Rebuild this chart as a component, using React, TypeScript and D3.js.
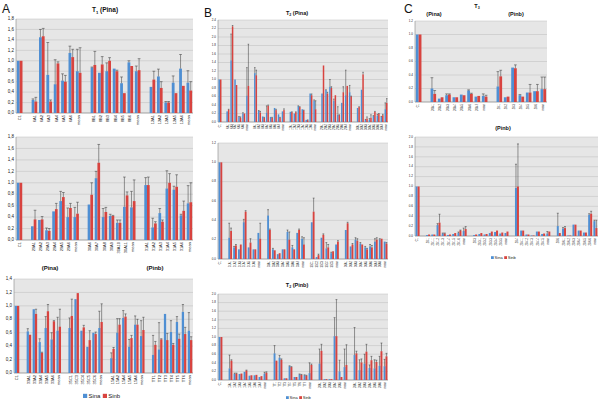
import React from 'react';
import * as d3 from 'd3';

// ---- Panel A: T1 (Pina) ----
const a1Labels = ['C1', '', '6A1', '6A2', '6A3', '6A4', '6A5', '6A6', 'mean', '', '8B1', '8B2', '8B3', '8B4', '8B5', '8B6', 'mean', '', '12A1', '12A2', '12A3', '12A5', '12A6', 'mean'];
const a1Sina = [1, null, 0.25, 1.45, 0.73, 0.55, 0.62, 1.15, 0.8, null, 0.87, 0.77, 0.8, 0.85, 0.57, 0.97, 0.8, null, 0.5, 0.7, 0.2, 0.58, 0.85, 0.58];
const a1SinaHi = [1, null, 0.27, 1.6, 1.35, 1.02, 0.75, 1.28, 1.22, null, 0.88, 0.77, 0.96, 0.85, 0.69, 1.0, 0.9, null, 0.5, 0.84, 0.22, 0.71, 1.12, 0.81];
const a1Sinb = [1, null, 0.22, 1.47, 0.22, 0.95, 0.6, 1.07, 0.77, null, 0.92, 0.93, 1.0, 0.8, 0.38, 0.9, 0.82, null, 0.64, 0.48, 0.2, 0.38, 0.52, 0.43];
const a1SinbHi = [1, null, 0.3, 1.62, 0.25, 0.98, 0.72, 1.22, 1.25, null, 1.18, 1.08, 1.06, 0.82, 0.38, 0.9, 1.04, null, 0.8, 0.6, 0.22, 0.38, 0.52, 0.6];

const a2Labels = ['C1', '', '29A1', '29A2', '29A3', '29A4', '29A5', '29A6', 'mean', '', '30A6', '30A7', '30A8', '30A9', '30A10', '30A11', 'mean', '', '31A1', '31A2', '31A3', '31A4', '31A5', '31A6', 'mean'];
const a2Sina = [1, null, 0.24, 0.35, 0.17, 0.5, 0.68, 0.4, 0.4, null, 0.62, 1.08, 0.4, 0.42, 0.3, 0.58, 0.57, null, 0.96, 0.22, 0.47, 0.9, 0.88, 0.43, 0.64];
const a2SinaHi = [1, null, 0.24, 0.35, 0.21, 0.5, 0.85, 0.56, 0.57, null, 0.62, 1.2, 0.55, 0.45, 0.35, 1.1, 0.85, null, 1.09, 0.38, 0.55, 1.21, 0.94, 0.45, 0.95];
const a2Sinb = [1, null, 0.36, 0.36, 0.16, 0.54, 0.75, 0.56, 0.46, null, 0.79, 1.35, 0.49, 0.42, 0.3, 0.78, 0.68, null, 0.96, 0.29, 0.32, 1.0, 0.93, 0.51, 0.66];
const a2SinbHi = [1, null, 0.52, 0.41, 0.2, 0.64, 0.83, 0.64, 0.66, null, 1.0, 1.67, 0.57, 0.43, 0.35, 0.84, 1.05, null, 1.1, 0.32, 0.35, 1.16, 1.14, 0.68, 1.0];

const a3Labels = ['C1', '', '33A1', '33A2', '33A4', '33A5', '33A6', 'mean', '', '35C1', '35C3', '35C4', '35C5', '35C6', 'mean', '', '15A1', '15A2', '15A4', '15A5', '15A6', 'mean', '', 'TT1', 'TT2', 'TT3', 'TT4', 'TT5', 'TT6', 'mean'];
const a3Sina = [1, null, 0.62, 0.95, 0.46, 0.67, 0.5, 0.63, null, 0.67, 1.1, 0.63, 0.39, 0.6, 0.67, null, 0.22, 0.6, 0.82, 0.39, 0.72, 0.55, null, 0.27, 0.35, 0.88, 0.61, 0.76, 0.91, 0.63];
const a3SinaHi = [1, null, 0.66, 0.95, 0.51, 0.84, 0.6, 0.83, null, 0.82, 1.1, 0.63, 0.39, 0.6, 0.92, null, 0.3, 0.81, 0.93, 0.5, 0.85, 0.78, null, 0.56, 0.75, 0.88, 0.78, 0.84, 1.02, 0.9];
const a3Sinb = [1, null, 0.57, 0.88, 0.3, 0.92, 0.77, 0.69, null, 0.85, 1.19, 0.68, 0.49, 0.58, 0.76, null, 0.36, 0.72, 0.84, 0.52, 0.72, 0.64, null, 0.42, 0.5, 0.49, 0.42, 0.51, 0.58, 0.49];
const a3SinbHi = [1, null, 0.57, 0.95, 0.31, 1.02, 0.78, 0.95, null, 1.1, 1.19, 0.71, 0.63, 0.61, 1.03, null, 0.38, 0.81, 0.88, 0.56, 0.8, 0.83, null, 0.47, 0.51, 0.59, 0.44, 0.58, 0.68, 0.54];

// ---- Panel B: T2 ----
const b1Labels = ['C1', '', '6A1', '6A3', '6A4', '6A5', '6A6', 'mean', '', '8A1', '8A2', '8A3', '8A4', '8A5', '8A6', '8A7', 'mean', '', '12A1', '12A2', '12A3', '12A4', '12A5', '12A6', 'mean', '', '29A1', '29A2', '29A3', '29A4', '29A5', '29A6', '29A7', 'mean', '', '30A1', '30A2', '30A3', '30A4', '30A5', '30A6', '30A7', 'mean'];
const b1Sina = [1, null, 0.25, 1.45, 1.0, 0.12, 0.2, 0.62, null, 1.15, 0.26, 0.13, 0.22, 0.12, 0.33, 0.18, 0.25, null, 0.24, 0.2, 0.37, 0.3, 0.05, 0.67, 0.5, null, 0.67, 0.75, 0.83, 0.5, 0.17, 0.45, 0.63, 0.7, null, 0.33, 0.76, 0.05, 0.05, 0.14, 0.15, 0.12, 0.3];
const b1SinaHi = [1, null, 0.25, 2.07, 1.0, 0.13, 0.22, 1.28, null, 1.28, 0.27, 0.13, 0.38, 0.12, 0.33, 0.18, 0.25, null, 0.24, 0.2, 0.38, 0.3, 0.05, 0.67, 0.52, null, 0.67, 0.76, 1.0, 0.54, 0.36, 0.45, 1.22, 0.86, null, 0.33, 0.76, 0.06, 0.08, 0.15, 0.18, 0.13, 0.45];
const b1Sinb = [1, null, 0.29, 2.25, 0.87, 0.1, 0.2, 0.85, null, 1.1, 0.22, 0.1, 0.38, 0.1, 0.28, 0.1, 0.28, null, 0.23, 0.23, 0.35, 0.27, 0.04, 0.63, 0.3, null, 1.33, 0.67, 0.8, 0.63, 0.16, 0.7, 0.85, 0.6, null, 0.35, 1.12, 0.08, 0.1, 0.24, 0.19, 0.16, 0.45];
const b1SinbHi = [1, null, 0.3, 2.27, 0.87, 0.12, 0.2, 1.83, null, 1.22, 0.25, 0.11, 0.4, 0.11, 0.3, 0.11, 0.31, null, 0.24, 0.24, 0.36, 0.28, 0.05, 0.66, 0.5, null, 1.33, 0.7, 0.83, 0.63, 0.17, 0.83, 0.85, 0.61, null, 0.36, 1.17, 0.12, 0.17, 0.25, 0.2, 0.18, 0.55];

const b2Labels = ['C1', '', '31A1', '31A2', '31A3', '31A4', '31A5', '31A6', 'mean', '', '33A1', '33A2', '33A3', '33A4', '33A5', '33A6', '33A7', 'mean', '', '35C1', '35C2', '35C3', '35C4', '35C5', 'mean', '', '36A1', '36A2', '36A3', '36A4', '36A5', '36A6', '36A7', '36A8', 'mean'];
const b2Sina = [1, null, 0.22, 0.12, 0.1, 0.38, 0.12, 0.1, 0.27, null, 0.45, 0.1, 0.05, 0.1, 0.28, 0.12, 0.27, 0.21, null, 0.38, 0.02, 0.22, 0.11, 0.06, 0.15, null, 0.3, 0.13, 0.2, 0.16, 0.12, 0.13, 0.18, 0.2, 0.18];
const b2SinaHi = [1, null, 0.37, 0.13, 0.1, 0.41, 0.12, 0.1, 0.27, null, 0.51, 0.11, 0.05, 0.1, 0.3, 0.14, 0.27, 0.23, null, 0.38, 0.02, 0.22, 0.17, 0.07, 0.15, null, 0.3, 0.13, 0.22, 0.17, 0.13, 0.15, 0.21, 0.21, 0.18];
const b2Sinb = [1, null, 0.29, 0.14, 0.15, 0.49, 0.17, 0.1, 0.21, null, 0.3, 0.09, 0.06, 0.1, 0.2, 0.1, 0.3, 0.15, null, 0.49, 0.04, 0.25, 0.12, 0.08, 0.18, null, 0.37, 0.15, 0.19, 0.15, 0.1, 0.12, 0.2, 0.21, 0.16];
const b2SinbHi = [1, null, 0.32, 0.15, 0.15, 0.5, 0.21, 0.1, 0.37, null, 0.31, 0.09, 0.06, 0.1, 0.28, 0.1, 0.31, 0.22, null, 0.63, 0.05, 0.26, 0.15, 0.08, 0.19, null, 0.38, 0.16, 0.21, 0.15, 0.11, 0.14, 0.22, 0.21, 0.17];

const b3Labels = ['C1', '', '15A1', '15A2', '15A3', '15A4', '15A5', '15A6', '15A7', 'mean', '', 'TT1', 'TT2', 'TT3', 'TT4', 'TT5', 'TT6', 'TT7', 'mean', '', '20A1', '20A2', '20A3', '20A4', '20A5', 'mean', '', '28A1', '28A2', '28A3', '28A4', '28A5', '28A6', 'mean'];
const b3Sina = [1, null, 0.27, 0.14, 0.14, 0.19, 0.1, 0.11, 0.07, 0.15, null, 0.62, 0.52, 0.04, 0.32, 0.07, 0.13, 0.11, 0.16, null, 0.38, 0.02, 0.02, 1.02, 0.2, 0.3, null, 0.58, 0.23, 0.38, 0.28, 0.27, 0.33, 0.32];
const b3SinaHi = [1, null, 0.58, 0.16, 0.14, 0.19, 0.1, 0.11, 0.07, 0.18, null, 0.8, 0.57, 0.04, 0.33, 0.07, 0.14, 0.12, 0.4, null, 0.72, 0.02, 0.02, 1.45, 0.46, 0.72, null, 1.22, 0.47, 0.6, 0.35, 0.47, 0.55, 0.48];
const b3Sinb = [1, null, 0.45, 0.15, 0.15, 0.22, 0.11, 0.12, 0.09, 0.17, null, 0.45, 0.47, 0.04, 0.3, 0.07, 0.12, 0.1, 0.35, null, 0.68, 0.02, 0.02, 1.02, 0.07, 0.35, null, 0.62, 0.41, 0.66, 0.46, 0.42, 0.67, 0.55];
const b3SinbHi = [1, null, 0.47, 0.16, 0.15, 0.23, 0.11, 0.12, 0.09, 0.19, null, 0.45, 0.49, 0.04, 0.31, 0.07, 0.13, 0.11, 0.37, null, 0.83, 0.02, 0.02, 1.87, 0.07, 0.82, null, 0.67, 0.49, 0.83, 0.55, 0.46, 0.86, 0.62];

// ---- Panel C: T3 ----
const c1Labels = ['C1', '', '20A-1', '20A-2', '20A-3', '20A-4', '20A-5', '20A-6', '20A-7', 'mean', '', '28-1', '28-2', '28-3', '28-4', '28-5', '28-6', 'mean'];
const c1Sina = [1, null, 0.2, 0.05, 0.1, 0.07, 0.11, 0.17, 0.08, 0.09, null, 0.23, 0.07, 0.51, 0.1, 0.14, 0.16, 0.19];
const c1SinaHi = [1, null, 0.36, 0.05, 0.12, 0.07, 0.11, 0.18, 0.08, 0.12, null, 0.45, 0.07, 0.51, 0.11, 0.14, 0.16, 0.37];
const c1Sinb = [1, null, 0.12, 0.07, 0.11, 0.07, 0.1, 0.12, 0.09, 0.08, null, 0.38, 0.08, 0.5, 0.08, 0.14, 0.16, 0.19];
const c1SinbHi = [1, null, 0.17, 0.07, 0.12, 0.07, 0.1, 0.13, 0.09, 0.1, null, 0.47, 0.08, 0.55, 0.08, 0.26, 0.26, 0.37];

const c2Labels = ['C1', '', '20-1', '20-1-1', '20-1-2', '20-1-3', '20-1-4', '20-1-5', '20-1-6', 'mean', '', '20-3', '20-3-1', '20-3-2', '20-3-3', '20-3-4', '20-3-5', 'mean', '', '20-4', '20-4-1', '20-4-2', '20-4-3', '20-4-4', '20-4-5', 'mean', '', '20-6', '20-6-1', '20-6-2', '20-6-3', '20-6-4', '20-6-5', '20-6-6', 'mean'];
const c2Sina = [1, null, 0.02, 0.03, 0.22, 0.05, 0.02, 0.04, 0.06, 0.1, null, 0.02, 0.04, 0.03, 0.06, 0.08, 0.05, 0.06, null, 0.97, 0.11, 0.03, 0.01, 0.09, 0.04, 0.05, null, 0.2, 0.15, 0.01, 0.23, 0.11, 0.07, 0.43, 0.3];
const c2SinaHi = [1, null, 0.02, 0.03, 0.25, 0.06, 0.02, 0.04, 0.08, 0.16, null, 0.02, 0.04, 0.03, 0.06, 0.08, 0.05, 0.06, null, 1.45, 0.11, 0.03, 0.01, 0.09, 0.04, 0.09, null, 0.46, 0.17, 0.01, 0.23, 0.11, 0.07, 0.45, 0.32];
const c2Sinb = [1, null, 0.03, 0.03, 0.27, 0.05, 0.03, 0.06, 0.11, 0.14, null, 0.03, 0.06, 0.04, 0.09, 0.11, 0.07, 0.09, null, 1.0, 0.11, 0.03, 0.01, 0.09, 0.05, 0.09, null, 0.06, 0.16, 0.01, 0.23, 0.11, 0.07, 0.45, 0.16];
const c2SinbHi = [1, null, 0.03, 0.03, 0.44, 0.06, 0.03, 0.06, 0.12, 0.19, null, 0.03, 0.06, 0.04, 0.09, 0.11, 0.07, 0.09, null, 1.86, 0.11, 0.03, 0.01, 0.09, 0.05, 0.09, null, 0.06, 0.19, 0.01, 0.23, 0.11, 0.07, 0.5, 0.32];

const BLUE = '#4f8fd3';
const RED = '#d8433f';
const FONT = 'Liberation Sans, Arial, sans-serif';

type ChartProps = {
  left: number; right: number; top: number; bottom: number; max: number;
  labels: string[]; sina: (number | null)[]; sinaHi: (number | null)[];
  sinb: (number | null)[]; sinbHi: (number | null)[];
  tickSize: number; labelSize: number; comma?: boolean;
};

const Chart = ({ left, right, top, bottom, max, labels, sina, sinaHi, sinb, sinbHi, tickSize, labelSize, comma }: ChartProps) => {
  const x = d3.scaleBand<number>().domain(labels.map((_, i) => i)).range([left, right]).paddingInner(0);
  const y = d3.scaleLinear().domain([0, max]).range([bottom, top]);
  const ticks = d3.range(0, max + 1e-9, 0.2);
  const bw = x.bandwidth() * 0.38;
  const fmt = (v: number) => {
    const s = d3.format('.1f')(v);
    return comma ? s.replace('.', ',') : s;
  };

  const series = [
    { vals: sina, hi: sinaHi, color: BLUE, off: -bw },
    { vals: sinb, hi: sinbHi, color: RED, off: 0 },
  ];

  return (
    <g>
      <rect x={left} y={top} width={right - left} height={bottom - top} fill="#e6e6e6" />
      {ticks.map((t) => (
        <g key={t}>
          <line x1={left} x2={right} y1={y(t)} y2={y(t)} stroke="#bdbdbd" strokeWidth={0.5} />
          <text x={left - 2} y={y(t)} fontSize={tickSize} textAnchor="end" dominantBaseline="middle" fill="#222">
            {fmt(t)}
          </text>
        </g>
      ))}
      <line x1={left} x2={left} y1={top} y2={bottom} stroke="#888" strokeWidth={0.6} />
      <line x1={left} x2={right} y1={bottom} y2={bottom} stroke="#888" strokeWidth={0.6} />
      {series.map((s, si) =>
        s.vals.map((v, i) => {
          if (v == null) return null;
          const cx = (x(i) as number) + x.bandwidth() / 2 + s.off;
          const hi = s.hi[i] as number;
          return (
            <g key={`${si}-${i}`}>
              <rect x={cx} y={y(v)} width={bw} height={bottom - y(v)} fill={s.color} />
              {hi > v && (
                <g stroke="#333" strokeWidth={0.5}>
                  <line x1={cx + bw / 2} x2={cx + bw / 2} y1={y(v)} y2={y(hi)} />
                  <line x1={cx} x2={cx + bw} y1={y(hi)} y2={y(hi)} />
                </g>
              )}
            </g>
          );
        })
      )}
      {labels.map((l, i) =>
        l ? (
          <text
            key={`l${i}`}
            transform={`translate(${(x(i) as number) + x.bandwidth() / 2},${bottom + 2}) rotate(-90)`}
            fontSize={labelSize}
            textAnchor="end"
            dominantBaseline="middle"
            fill="#222"
          >
            {l}
          </text>
        ) : null
      )}
    </g>
  );
};

const Legend = ({ x, y, size }: { x: number; y: number; size: number }) => (
  <g fontSize={size}>
    <rect x={x} y={y - size * 0.7} width={size * 0.7} height={size * 0.7} fill={BLUE} />
    <text x={x + size * 0.9} y={y} fill="#222">Sina</text>
    <rect x={x + size * 3.3} y={y - size * 0.7} width={size * 0.7} height={size * 0.7} fill={RED} />
    <text x={x + size * 4.2} y={y} fill="#222">Sinb</text>
  </g>
);

const Title = ({ x, y, t, rest, size }: { x: number; y: number; t: string; rest: string; size: number }) => (
  <text x={x} y={y} fontSize={size} fontWeight="bold" textAnchor="middle" fill="#111">
    T<tspan fontSize={size * 0.65} dy={size * 0.25}>{t}</tspan>
    <tspan dy={-size * 0.25}>{rest}</tspan>
  </text>
);

export default function App() {
  return (
    <svg width={600} height={400} style={{ position: 'absolute', left: 0, top: 0, background: '#fff' }} fontFamily={FONT}>
      {/* Panel A */}
      <text x={2} y={13} fontSize={12} fill="#111">A</text>
      <Title x={105} y={12} t="1" rest="  (Pina)" size={6.5} />
      <Chart left={16} right={193} top={19} bottom={113} max={1.8} labels={a1Labels} sina={a1Sina} sinaHi={a1SinaHi} sinb={a1Sinb} sinbHi={a1SinbHi} tickSize={4.5} labelSize={4} comma />
      <Chart left={16} right={193} top={137} bottom={240} max={1.8} labels={a2Labels} sina={a2Sina} sinaHi={a2SinaHi} sinb={a2Sinb} sinbHi={a2SinbHi} tickSize={4.5} labelSize={4} comma />
      <text x={50} y={270} fontSize={6} fontWeight="bold" textAnchor="middle" fill="#111">(Pina)</text>
      <text x={155} y={270} fontSize={6} fontWeight="bold" textAnchor="middle" fill="#111">(Pinb)</text>
      <Chart left={14} right={193} top={279} bottom={373} max={1.4} labels={a3Labels} sina={a3Sina} sinaHi={a3SinaHi} sinb={a3Sinb} sinbHi={a3SinbHi} tickSize={4.5} labelSize={4} comma />
      <Legend x={83} y={398} size={6} />

      {/* Panel B */}
      <text x={204} y={17} fontSize={12} fill="#111">B</text>
      <Title x={297} y={15} t="2" rest=" (Pina)" size={5.5} />
      <Chart left={218} right={388} top={20} bottom={122} max={2.4} labels={b1Labels} sina={b1Sina} sinaHi={b1SinaHi} sinb={b1Sinb} sinbHi={b1SinbHi} tickSize={3} labelSize={2.6} />
      <Chart left={218} right={388} top={143} bottom={259} max={1.2} labels={b2Labels} sina={b2Sina} sinaHi={b2SinaHi} sinb={b2Sinb} sinbHi={b2SinbHi} tickSize={3} labelSize={2.6} />
      <Title x={297} y={287} t="2" rest=" (Pinb)" size={5.5} />
      <Chart left={218} right={388} top={294} bottom={380} max={2.0} labels={b3Labels} sina={b3Sina} sinaHi={b3SinaHi} sinb={b3Sinb} sinbHi={b3SinbHi} tickSize={3} labelSize={2.6} />
      <Legend x={286} y={399} size={4} />

      {/* Panel C */}
      <text x={404} y={13} fontSize={12} fill="#111">C</text>
      <Title x={477} y={8} t="3" rest="" size={5.5} />
      <text x={434} y={16} fontSize={5.5} fontWeight="bold" textAnchor="middle" fill="#111">(Pina)</text>
      <text x={516} y={16} fontSize={5.5} fontWeight="bold" textAnchor="middle" fill="#111">(Pinb)</text>
      <Chart left={415} right={547} top={21} bottom={102} max={1.2} labels={c1Labels} sina={c1Sina} sinaHi={c1SinaHi} sinb={c1Sinb} sinbHi={c1SinbHi} tickSize={3} labelSize={2.6} />
      <text x={503} y={130} fontSize={5.5} fontWeight="bold" textAnchor="middle" fill="#111">(Pinb)</text>
      <Chart left={415} right={598} top={137} bottom={236} max={2.0} labels={c2Labels} sina={c2Sina} sinaHi={c2SinaHi} sinb={c2Sinb} sinbHi={c2SinbHi} tickSize={3} labelSize={2.6} />
      <Legend x={491} y={259} size={4} />
    </svg>
  );
}
